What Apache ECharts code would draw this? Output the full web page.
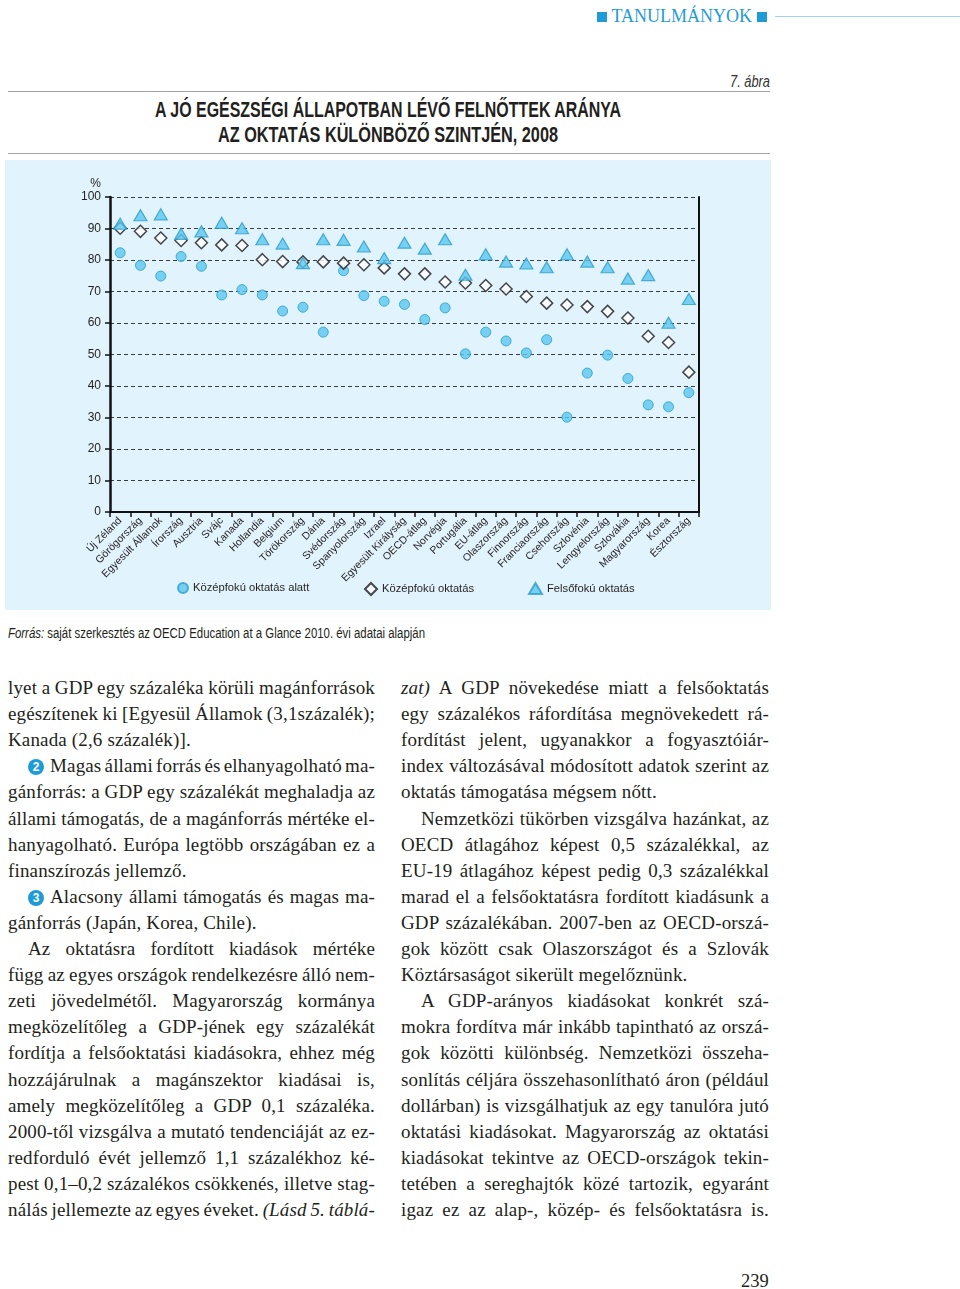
<!DOCTYPE html>
<html><head><meta charset="utf-8">
<script src="https://cdn.jsdelivr.net/npm/echarts@6/dist/echarts.min.js"></script>
<style>
html,body{margin:0;padding:0;background:#fff;}
body{width:960px;height:1289px;position:relative;overflow:hidden;font-family:"Liberation Serif","DejaVu Serif",serif;color:#231f20;}
.abs{position:absolute;white-space:nowrap;transform-origin:0 50%;}
.hr{position:absolute;left:8px;width:762px;height:0;border-top:1.5px solid #a3a3a3;}
.ln{position:absolute;white-space:nowrap;font-size:19px;letter-spacing:0.15px;line-height:26px;height:26px;}
.num{display:inline-block;width:16px;height:16px;border-radius:50%;background:#1f9bd7;color:#fff;font-family:"Liberation Sans",sans-serif;font-weight:bold;font-size:12px;line-height:16px;letter-spacing:0;text-align:center;vertical-align:1px;margin-right:6px;}
.sq{display:inline-block;width:10px;height:10px;background:#1f9bd7;vertical-align:0px;}
#chart{position:absolute;left:5px;top:160px;width:766px;height:450px;}
</style></head>
<body>
<!-- header -->
<div class="abs" style="left:597px;top:5px;font-size:18px;line-height:22px;color:#1f9bd7;"><span class="sq"></span>&nbsp;<span id="hdr">TANULMÁNYOK</span>&nbsp;<span class="sq"></span></div>
<div style="position:absolute;left:775px;top:16px;width:185px;border-top:1px solid #9fd3ee;"></div>
<div class="abs" id="abra" style="left:730px;top:71px;font-family:'Liberation Sans',sans-serif;font-style:italic;font-size:16px;line-height:22px;color:#333;">7. ábra</div>
<div class="hr" style="top:91px;"></div>
<div class="abs" id="t1" style="left:155px;top:97px;font-family:'Liberation Sans',sans-serif;font-weight:bold;font-size:22px;line-height:26px;color:#231f20;">A JÓ EGÉSZSÉGI ÁLLAPOTBAN LÉVŐ FELNŐTTEK ARÁNYA</div>
<div class="abs" id="t2" style="left:218px;top:122px;font-family:'Liberation Sans',sans-serif;font-weight:bold;font-size:22px;line-height:26px;color:#231f20;">AZ OKTATÁS KÜLÖNBÖZŐ SZINTJÉN, 2008</div>
<div class="hr" style="top:153px;"></div>
<div id="chart"></div>
<div class="abs" id="src" style="left:8px;top:624px;font-family:'Liberation Sans',sans-serif;font-size:14px;line-height:18px;color:#231f20;"><i>Forrás:</i> saját szerkesztés az OECD Education at a Glance 2010. évi adatai alapján</div>
<div id="body"></div>
<div class="abs" style="left:741px;top:1269px;font-size:18.5px;line-height:24px;">239</div>

<script>
// ---------- chart data ----------
const categories = ['Új Zéland','Görögország','Egyesült Államok','Írország','Ausztria','Svájc','Kanada','Hollandia','Belgium','Törökország','Dánia','Svédország','Spanyolország','Izrael','Egyesült Királyság','OECD-átlag','Norvégia','Portugália','EU-átlag','Olaszország','Finnország','Franciaország','Csehország','Szlovénia','Lengyelország','Szlovákia','Magyarország','Korea','Észtország'];
const belowUpperSecondary = [82.3,78.3,74.9,81.1,78.0,68.9,70.6,68.9,63.8,65.0,57.1,76.6,68.7,66.9,65.9,61.1,64.8,50.2,57.1,54.3,50.5,54.7,30.1,44.1,49.8,42.4,34.0,33.4,37.9];
const upperSecondary = [90.1,89.1,87.0,86.2,85.5,84.8,84.6,80.1,79.5,79.4,79.4,79.0,78.5,77.5,75.6,75.6,73.0,72.7,71.9,70.8,68.4,66.3,65.7,65.2,63.7,61.6,55.8,53.8,44.4];
const tertiary = [91.5,94.2,94.5,88.3,89.1,91.8,90.1,86.6,85.2,79.0,86.6,86.4,84.3,80.6,85.5,83.6,86.6,75.3,81.8,79.5,78.9,77.7,81.8,79.5,77.7,74.1,75.2,60.1,67.6];
const seriesNames = ['Középfokú oktatás alatt','Középfokú oktatás','Felsőfokú oktatás'];
const yMin = 0, yMax = 100, yStep = 10;

const FONT = "'Liberation Sans', Arial, sans-serif";
const chart = echarts.init(document.getElementById('chart'), null, {renderer:'canvas'});
const legendBase = {
  orient:'horizontal', top:417, itemHeight:12, selectedMode:false,
  textStyle:{color:'#231f20', fontSize:11.2, fontFamily:FONT}
};
chart.setOption({
  animation:false,
  backgroundColor:'#e1f3fc',
  textStyle:{fontFamily:FONT},
  grid:{left:105, right:72, top:37, bottom:98, containLabel:false},
  legend:[
    Object.assign({}, legendBase, {left:167, itemWidth:10, itemHeight:10, data:[{name:seriesNames[0], icon:'circle'}]}),
    Object.assign({}, legendBase, {left:354, itemWidth:12, data:[{name:seriesNames[1], icon:'diamond'}]}),
    Object.assign({}, legendBase, {left:518, itemWidth:13, itemHeight:11, data:[{name:seriesNames[2], icon:'triangle'}]})
  ],
  xAxis:{
    type:'category', data:categories, boundaryGap:true,
    axisLine:{show:true, lineStyle:{color:'#111', width:2}},
    axisTick:{show:true, length:5, lineStyle:{color:'#111', width:1.5}},
    axisLabel:{rotate:45, interval:0, fontSize:10.5, color:'#231f20', margin:7, fontFamily:FONT},
    splitLine:{show:false}
  },
  yAxis:[{
    type:'value', min:yMin, max:yMax, interval:yStep,
    name:'%', nameLocation:'end', nameGap:7,
    nameTextStyle:{color:'#231f20', fontSize:12, align:'right', padding:[0,9,0,0], fontFamily:FONT},
    axisLine:{show:true, lineStyle:{color:'#111', width:2.5}},
    axisTick:{show:true, length:5, lineStyle:{color:'#111', width:1.5}},
    axisLabel:{color:'#231f20', fontSize:12, margin:9, fontFamily:FONT},
    splitLine:{show:true, lineStyle:{color:'#3c3c3c', type:[4,3], width:1}}
  },{
    type:'value', min:yMin, max:yMax, interval:yStep, position:'right',
    axisLine:{show:true, lineStyle:{color:'#111', width:2}},
    axisTick:{show:false}, axisLabel:{show:false}, splitLine:{show:false}
  }],
  series:[
    {name:seriesNames[0], type:'scatter', data:belowUpperSecondary, symbol:'circle', symbolSize:10,
     itemStyle:{color:'#5bc7ef', borderColor:'#2c9ccd', borderWidth:1}},
    {name:seriesNames[1], type:'scatter', data:upperSecondary, symbol:'diamond', symbolSize:12,
     itemStyle:{color:'#ffffff', borderColor:'#1a1a1a', borderWidth:1.5}},
    {name:seriesNames[2], type:'scatter', data:tertiary, symbol:'triangle', symbolSize:[13,11],
     itemStyle:{color:'#5bc7ef', borderColor:'#2c9ccd', borderWidth:1.2}}
  ]
});

// ---------- body text ----------
const col1 = [
  ['j',0,'lyet a GDP egy százaléka körüli magánforrások'],
  ['j',0,'egészítenek ki [Egyesül Államok (3,1százalék);'],
  ['e',0,'Kanada (2,6 százalék)].'],
  ['j',20,'<span class="num">2</span>Magas állami forrás és elhanyagolható ma-'],
  ['j',0,'gánforrás: a GDP egy százalékát meghaladja az'],
  ['j',0,'állami támogatás, de a magánforrás mértéke el-'],
  ['j',0,'hanyagolható. Európa legtöbb országában ez a'],
  ['e',0,'finanszírozás jellemző.'],
  ['j',20,'<span class="num">3</span>Alacsony állami támogatás és magas ma-'],
  ['e',0,'gánforrás (Japán, Korea, Chile).'],
  ['j',20,'Az oktatásra fordított kiadások mértéke'],
  ['j',0,'függ az egyes országok rendelkezésre álló nem-'],
  ['j',0,'zeti jövedelmétől. Magyarország kormánya'],
  ['j',0,'megközelítőleg a GDP-jének egy százalékát'],
  ['j',0,'fordítja a felsőoktatási kiadásokra, ehhez még'],
  ['j',0,'hozzájárulnak a magánszektor kiadásai is,'],
  ['j',0,'amely megközelítőleg a GDP 0,1 százaléka.'],
  ['j',0,'2000-től vizsgálva a mutató tendenciáját az ez-'],
  ['j',0,'redforduló évét jellemző 1,1 százalékhoz ké-'],
  ['j',0,'pest 0,1–0,2 százalékos csökkenés, illetve stag-'],
  ['j',0,'nálás jellemezte az egyes éveket. <i>(Lásd 5. táblá-</i>']
];
const col2 = [
  ['j',0,'<i>zat)</i> A GDP növekedése miatt a felsőoktatás'],
  ['j',0,'egy százalékos ráfordítása megnövekedett rá-'],
  ['j',0,'fordítást jelent, ugyanakkor a fogyasztóiár-'],
  ['j',0,'index változásával módosított adatok szerint az'],
  ['e',0,'oktatás támogatása mégsem nőtt.'],
  ['j',20,'Nemzetközi tükörben vizsgálva hazánkat, az'],
  ['j',0,'OECD átlagához képest 0,5 százalékkal, az'],
  ['j',0,'EU-19 átlagához képest pedig 0,3 százalékkal'],
  ['j',0,'marad el a felsőoktatásra fordított kiadásunk a'],
  ['j',0,'GDP százalékában. 2007-ben az OECD-orszá-'],
  ['j',0,'gok között csak Olaszországot és a Szlovák'],
  ['e',0,'Köztársaságot sikerült megelőznünk.'],
  ['j',20,'A GDP-arányos kiadásokat konkrét szá-'],
  ['j',0,'mokra fordítva már inkább tapintható az orszá-'],
  ['j',0,'gok közötti különbség. Nemzetközi összeha-'],
  ['j',0,'sonlítás céljára összehasonlítható áron (például'],
  ['j',0,'dollárban) is vizsgálhatjuk az egy tanulóra jutó'],
  ['j',0,'oktatási kiadásokat. Magyarország az oktatási'],
  ['j',0,'kiadásokat tekintve az OECD-országok tekin-'],
  ['j',0,'tetében a sereghajtók közé tartozik, egyaránt'],
  ['j',0,'igaz ez az alap-, közép- és felsőoktatásra is.']
];
const bodyEl = document.getElementById('body');
function layCol(lines, x0, x1){
  lines.forEach((l,i)=>{
    const d = document.createElement('div');
    d.className = 'ln';
    const left = x0 + l[1];
    d.style.left = left + 'px';
    d.style.top = (675 + i*26.1) + 'px';
    const s = document.createElement('span');
    s.innerHTML = l[2];
    d.appendChild(s);
    bodyEl.appendChild(d);
    if (l[0]==='j'){
      const W = x1 - left;
      const w = s.getBoundingClientRect().width;
      const n = (s.textContent.match(/ /g)||[]).length;
      if (n>0) d.style.wordSpacing = ((W - w)/n) + 'px';
    }
  });
}
layCol(col1, 8, 375);
layCol(col2, 401, 769);

function fitW(id, W){
  const el = document.getElementById(id);
  const w = el.getBoundingClientRect().width;
  el.style.transform = 'scaleX(' + (W/w) + ')';
}
fitW('t1', 466);
fitW('t2', 340);
fitW('abra', 40);
fitW('src', 417);
fitW('hdr', 145);
</script>
</body></html>
